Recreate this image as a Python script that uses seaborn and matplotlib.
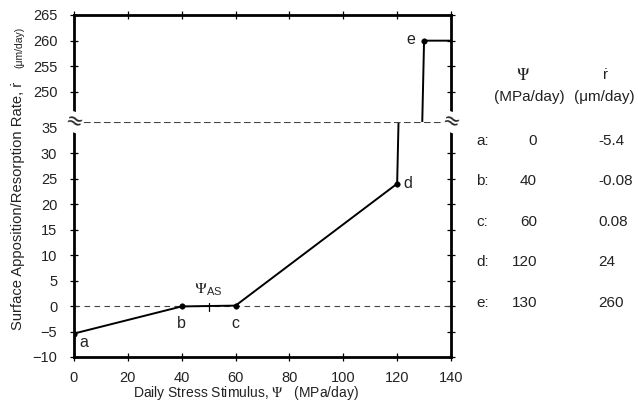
import numpy as np
import pandas as pd
import matplotlib
matplotlib.use('Agg')
import matplotlib.pyplot as plt
import seaborn as sns

# curve data (stimulus in MPa/day, rate in um/day)
psi = [0, 40, 60, 120, 130, 140]
rate = [-5.4, -0.08, 0.08, 24, 260, 260]
point_names = ['a', 'b', 'c', 'd', 'e']
psi_table = ['0', '40', '60', '120', '130']
rate_table = ['-5.4', '-0.08', '0.08', '24', '260']
psi_as = 50

lower_ticks = [-10, -5, 0, 5, 10, 15, 20, 25, 30, 35]
upper_ticks = [250, 255, 260, 265]
x_ticks = [0, 20, 40, 60, 80, 100, 120, 140]

curve = pd.DataFrame({'psi': psi, 'rate': rate})
pts = curve.iloc[:5].copy()
pts['name'] = point_names

sns.set_style('ticks')
plt.rcParams['font.family'] = ['Liberation Sans', 'DejaVu Sans']
plt.rcParams['mathtext.fontset'] = 'stix'

W, H = 638, 413
fig = plt.figure(figsize=(W / 100, H / 100), dpi=100)

def fx(px):
    return px / W

def fy(py):
    return 1 - py / H

left, right = 74, 451
top, brk, bottom = 15, 122, 357
ax_lo = fig.add_axes([fx(left), fy(bottom), fx(right - left), (bottom - brk) / H])
ax_hi = fig.add_axes([fx(left), fy(brk), fx(right - left), (brk - top) / H])

txt = '#222222'
for ax in (ax_lo, ax_hi):
    sns.lineplot(data=curve, x='psi', y='rate', ax=ax, color='black', lw=1.4,
                 sort=False, estimator=None, legend=False)
    sns.scatterplot(data=pts, x='psi', y='rate', ax=ax, color='black', s=16,
                    edgecolor='black', zorder=5, legend=False)
    ax.set_xlim(0, 140)
    ax.set_xticks(x_ticks)
    ax.set_xlabel('')
    ax.set_ylabel('')
    ax.tick_params(direction='inout', length=6, width=0.9, labelsize=10.5,
                   top=True, right=True, colors='black', labelcolor=txt)
    ax.tick_params(axis='y', pad=9)
    ax.tick_params(axis='x', pad=7)
    for s in ax.spines.values():
        s.set_linewidth(2)
        s.set_color('black')

ax_lo.set_ylim(-10, 36.1)
ax_lo.set_yticks(lower_ticks)
ax_lo.spines['top'].set_linestyle((0, (5, 4)))
ax_lo.spines['top'].set_linewidth(0.8)
ax_lo.spines['top'].set_color('#444444')
ax_lo.tick_params(top=False)

ax_hi.set_ylim(244.15, 265)
ax_hi.set_yticks(upper_ticks)
ax_hi.spines['bottom'].set_visible(False)
ax_hi.tick_params(bottom=False, labelbottom=False)

# zero line and Psi_AS marker
ax_lo.axhline(0, color='#444444', lw=0.8, ls=(0, (5, 4)), zorder=1)
ax_lo.plot([psi_as, psi_as], [-1.0, 0.5], color='black', lw=0.9)
ax_lo.text(psi_as, 1.5, r'$\Psi_{\mathregular{AS}}$', ha='center', va='bottom', fontsize=11.5)

# point labels
offsets = {'a': (5, -9, 'left', 'center'), 'b': (0, -10, 'center', 'top'),
           'c': (0, -10, 'center', 'top'), 'd': (6, 0, 'left', 'center'),
           'e': (-9, 1, 'right', 'center')}
for _, r in pts.iterrows():
    ax = ax_hi if r['rate'] > 100 else ax_lo
    dx, dy, ha, va = offsets[r['name']]
    ax.annotate(r['name'], (r['psi'], r['rate']), xytext=(dx, dy),
                textcoords='offset pixels', ha=ha, va=va, fontsize=11.5, color=txt)

# axis break marks
for px in (left, right):
    fig.text(fx(px), fy(brk), '\u2248', ha='center', va='center', fontsize=15,
             family='DejaVu Sans', rotation=-20,
             bbox=dict(boxstyle='square,pad=0.0', fc='white', ec='none'))

# axis labels
fig.text(fx(133), fy(393), r'Daily Stress Stimulus, $\Psi$   (MPa/day)',
         ha='left', va='center', fontsize=10, color=txt)
fig.text(fx(18), fy(330), 'Surface Apposition/Resorption Rate, \u1e59',
         rotation=90, ha='center', va='bottom', fontsize=10.6, color=txt)
fig.text(fx(19), fy(68), '(\u03bcm/day)', rotation=90, ha='center', va='bottom',
         fontsize=7.5, color=txt)

# value table
fs = 11
fig.text(fx(523), fy(75), r'$\Psi$', ha='center', va='center', fontsize=12, color=txt)
fig.text(fx(529), fy(97), '(MPa/day)', ha='center', va='center', fontsize=fs, color=txt)
fig.text(fx(605), fy(75), '\u1e59', ha='center', va='center', fontsize=fs, color=txt)
fig.text(fx(604), fy(97), '(\u03bcm/day)', ha='center', va='center', fontsize=fs, color=txt)
row_y = [141, 181, 222, 262, 303]
for name, pv, rv, yy in zip(point_names, psi_table, rate_table, row_y):
    fig.text(fx(476), fy(yy), name + ':', ha='left', va='center', fontsize=fs, color=txt)
    fig.text(fx(537), fy(yy), pv, ha='right', va='center', fontsize=fs, color=txt)
    fig.text(fx(598), fy(yy), rv, ha='left', va='center', fontsize=fs, color=txt)

fig.savefig('out.png', dpi=100)
